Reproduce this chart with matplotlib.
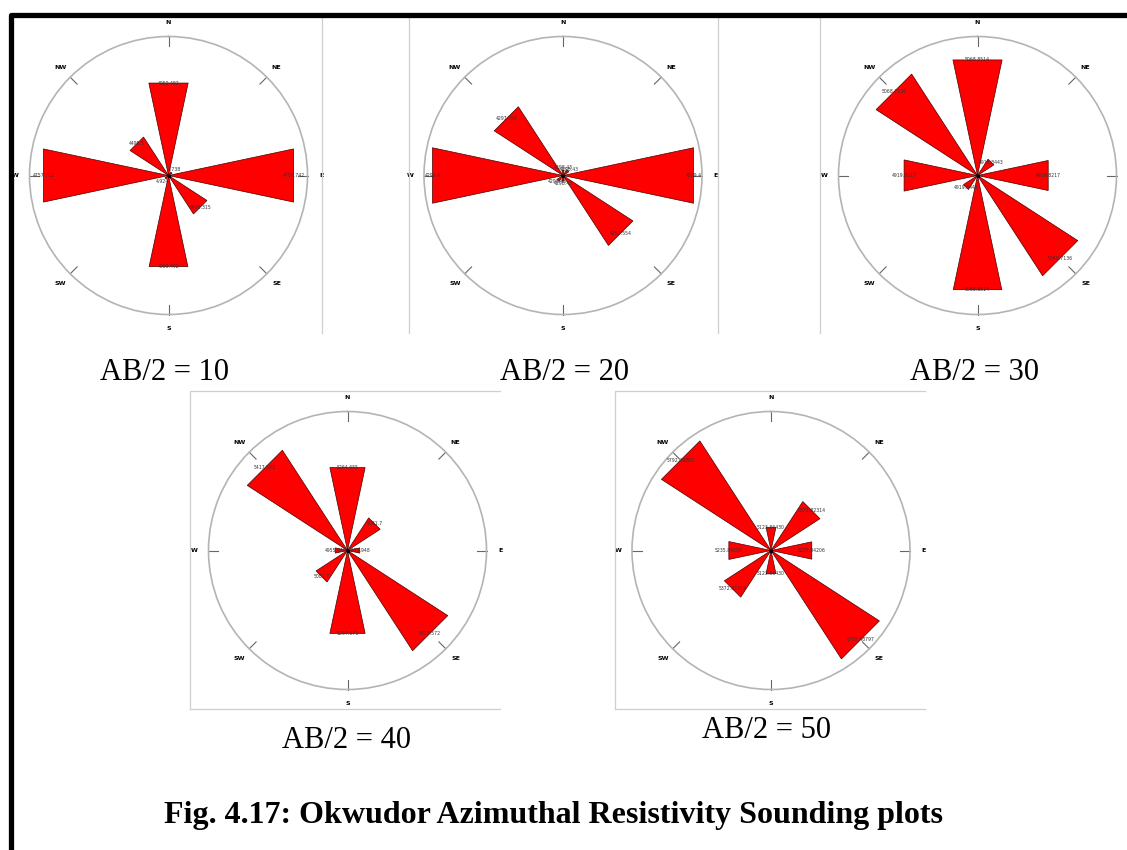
import numpy as np
import matplotlib
matplotlib.use('Agg')
import matplotlib.pyplot as plt
from matplotlib.lines import Line2D

# direcciones de medida (azimut en grados, sentido horario desde el norte)
directions = ['N', 'NE', 'E', 'SE', 'S', 'SW', 'W', 'NW']
azimuths = [0, 45, 90, 135, 180, 225, 270, 315]
ab_spacing = [10, 20, 30, 40, 50]

# longitud relativa de cada petalo (fraccion del radio del circulo)
len_ab10 = [0.68, 0.03, 0.92, 0.33, 0.67, 0.03, 0.92, 0.33]
len_ab20 = [0.04, 0.05, 0.96, 0.60, 0.04, 0.05, 0.96, 0.59]
len_ab30 = [0.85, 0.14, 0.52, 0.86, 0.84, 0.12, 0.54, 0.87]
len_ab40 = [0.61, 0.28, 0.09, 0.86, 0.61, 0.27, 0.09, 0.86]
len_ab50 = [0.17, 0.42, 0.30, 0.93, 0.17, 0.40, 0.31, 0.94]

# resistividad aparente escrita en la punta de cada petalo
lbl_ab10 = ['4050.492', '4.738', '4757.742', '4495.315', '4050.492', '4.924', '4757.712', '4495.5']
lbl_ab20 = ['4298.43', '4298.43', '4299.4', '4297.554', '4298.43', '4298.43', '4299.4', '4297.554']
lbl_ab30 = ['5068.8514', '4919.8443', '4919.8217', '5068.7136', '5068.8514', '4919.8443', '4919.8217', '5068.7136']
lbl_ab40 = ['5264.655', '5081.7', '4955.948', '5417.572', '5264.673', '5081.7', '4955.948', '5417.572']
lbl_ab50 = ['5123.86430', '5372.82314', '5235.84206', '5792.48797', '5123.86430', '5372.82314', '5235.84206', '5792.48862']

lengths = [len_ab10, len_ab20, len_ab30, len_ab40, len_ab50]
labels = [lbl_ab10, lbl_ab20, lbl_ab30, lbl_ab40, lbl_ab50]

W, H = 1127, 850
# centro de cada rosa en pixeles (x, y desde arriba)
centers = [(168.5, 175.5), (563, 175.5), (977.5, 175.5), (347.5, 550.5), (771, 550.5)]
R = 139
caption_pos = [(164, 372), (565, 372), (975, 372), (347, 740), (766, 730)]
ancho = np.deg2rad(24)

fig = plt.figure(figsize=(W / 100, H / 100), dpi=100)


def fx(x):
    return x / W


def fy(y):
    return 1 - y / H


def linea(xs, ys, color='#cfcfcf', lw=0.9):
    fig.add_artist(Line2D([fx(x) for x in xs], [fy(y) for y in ys], color=color, lw=lw))


for (cx, cy), largos, textos, ab, (tx, ty) in zip(centers, lengths, labels, ab_spacing, caption_pos):
    ax = fig.add_axes([fx(cx - R), fy(cy + R), 2 * R / W, 2 * R / H], projection='polar')
    ax.set_theta_zero_location('N')
    ax.set_theta_direction(-1)
    ax.set_ylim(0, 1)
    ax.set_xticks([])
    ax.set_yticks([])
    ax.grid(False)
    ax.spines['polar'].set_color('#b4b4b4')
    ax.spines['polar'].set_linewidth(1.2)

    for az, r, txt in zip(azimuths, largos, textos):
        t = np.deg2rad(az)
        ax.fill([t, t - ancho / 2, t + ancho / 2], [0, r, r],
                facecolor='#ff0000', edgecolor='#4a0000', lw=0.5, zorder=3)
        ax.text(t, max(r * np.cos(ancho / 2), 0.06), txt, fontsize=3.3, color='#333333',
                ha='center', va='center', zorder=4)

    for az, d in zip(azimuths, directions):
        t = np.deg2rad(az)
        ax.plot([t, t], [0.93, 1.0], color='#666666', lw=0.8, clip_on=False)
        ax.text(t, 1.1, d, fontsize=4.5, fontweight='bold', ha='center', va='center',
                clip_on=False)
    ax.plot([0], [0], 'k.', ms=3, zorder=5)

    fig.text(fx(tx), fy(ty), f'AB/2 = {ab}', fontsize=22, family='Liberation Serif',
             ha='center', va='center')

# marcos grises de cada grafico
linea([322, 322], [18, 333])
linea([409, 409], [18, 333])
linea([718, 718], [18, 333])
linea([820, 820], [18, 333])
linea([190, 190, 500], [709, 391, 391])
linea([190, 500], [709, 709])
linea([615, 615, 925], [709, 391, 391])
linea([615, 925], [709, 709])

# borde negro de la figura
linea([10.5, 10.5, W], [H, 14.5, 14.5], color='black', lw=3.8)

fig.text(fx(554), fy(815), 'Fig. 4.17: Okwudor Azimuthal Resistivity Sounding plots',
         fontsize=23, fontweight='bold', family='Liberation Serif', ha='center', va='center')

fig.savefig('out.png', dpi=100)
